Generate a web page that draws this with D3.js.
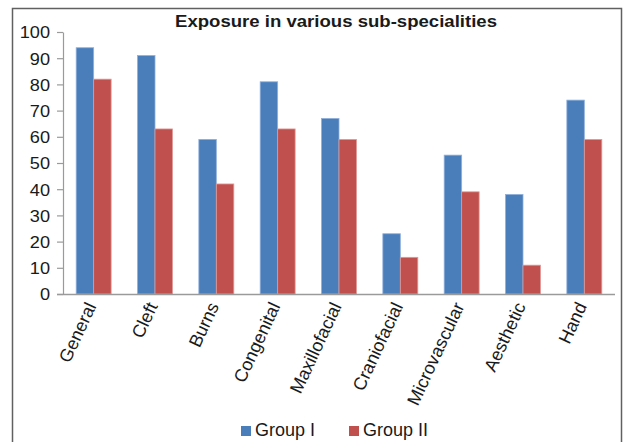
<!DOCTYPE html>
<html>
<head>
<meta charset="utf-8">
<script src="https://cdn.jsdelivr.net/npm/d3@7"></script>
<style>
  html, body { margin: 0; padding: 0; background: #fff; }
  svg { display: block; font-family: "Liberation Sans", Arial, Helvetica, sans-serif; }
</style>
</head>
<body>
<svg id="chart" width="623" height="442"></svg>
<script>
const categories = ["General", "Cleft", "Burns", "Congenital", "Maxillofacial", "Craniofacial", "Microvascular", "Aesthetic", "Hand"];
const seriesNames = ["Group I", "Group II"];
const groupI = [94, 91, 59, 81, 67, 23, 53, 38, 74];
const groupII = [82, 63, 42, 63, 59, 14, 39, 11, 59];
const yTicks = [0, 10, 20, 30, 40, 50, 60, 70, 80, 90, 100];
const colors = ["#4A7EBB", "#C0504D"];
const strokes = ["#8fb0da", "#e09a98"];
const title = "Exposure in various sub-specialities";

const svg = d3.select("#chart");

// outer frame
svg.append("rect")
  .attr("x", 12.5).attr("y", 8.5)
  .attr("width", 609).attr("height", 450)
  .attr("fill", "none").attr("stroke", "#606060").attr("stroke-width", 1.5);

const plotLeft = 63, plotRight = 615, plotTop = 32, plotBottom = 294;

const x0 = d3.scaleBand().domain(categories).range([plotLeft, plotRight])
  .paddingInner(0.43).paddingOuter(0.215);
const x1 = d3.scaleBand().domain(seriesNames).range([0, x0.bandwidth()]);
const y = d3.scaleLinear().domain([0, 100]).range([plotBottom, plotTop]);

// title
svg.append("text")
  .attr("x", 336).attr("y", 27)
  .attr("text-anchor", "middle")
  .attr("font-weight", "bold")
  .attr("font-size", 16.5)
  .attr("fill", "#1a1a1a")
  .attr("textLength", 322)
  .attr("lengthAdjust", "spacingAndGlyphs")
  .text(title);

// bars
const data = categories.map((c, i) => ({cat: c, vals: [groupI[i], groupII[i]]}));
const g = svg.append("g");
data.forEach(d => {
  d.vals.forEach((v, k) => {
    g.append("rect")
      .attr("x", x0(d.cat) + x1(seriesNames[k]))
      .attr("y", y(v))
      .attr("width", x1.bandwidth())
      .attr("height", y(0) - y(v))
      .attr("fill", colors[k])
      .attr("stroke", strokes[k])
      .attr("stroke-width", 0.8);
  });
});

// y axis
const yAxis = d3.axisLeft(y).tickValues(yTicks).tickSize(6).tickPadding(6).tickSizeOuter(0);
const ya = svg.append("g").attr("transform", `translate(${plotLeft},0)`).call(yAxis);
ya.select(".domain").attr("stroke", "#9a9a9a").attr("stroke-width", 1.2);
ya.selectAll(".tick line").attr("stroke", "#9a9a9a").attr("stroke-width", 1.2);
ya.selectAll(".tick text")
  .attr("font-size", 16.5).attr("fill", "#1a1a1a")
  .attr("font-family", "Liberation Sans, Arial, sans-serif")
  .attr("dy", "0.36em")
  .attr("x", null)
  .attr("transform", "translate(-13,0) scale(1.1,1)");

// x axis
const xAxis = d3.axisBottom(x0).tickSize(0).tickPadding(0).tickSizeOuter(0);
const xa = svg.append("g").attr("transform", `translate(0,${plotBottom})`).call(xAxis);
xa.select(".domain").attr("d", `M${plotLeft - 6},0.5H${plotRight}`).attr("stroke", "#9a9a9a").attr("stroke-width", 1.5);
xa.selectAll(".tick text")
  .attr("font-size", 18).attr("fill", "#1a1a1a")
  .attr("font-family", "Liberation Sans, Arial, sans-serif")
  .attr("text-anchor", "end")
  .attr("x", 0).attr("y", 0).attr("dy", 0)
  .attr("transform", "translate(3,12) rotate(-65)");

// legend
const legend = svg.append("g");
const legendItems = [{x: 241, name: seriesNames[0]}, {x: 349, name: seriesNames[1]}];
legendItems.forEach((it, k) => {
  legend.append("rect")
    .attr("x", it.x).attr("y", 426).attr("width", 10).attr("height", 10)
    .attr("fill", colors[k]);
  legend.append("text")
    .attr("x", it.x + 14).attr("y", 436)
    .attr("font-size", 18).attr("fill", "#1a1a1a")
    .text(it.name);
});
</script>
</body>
</html>
